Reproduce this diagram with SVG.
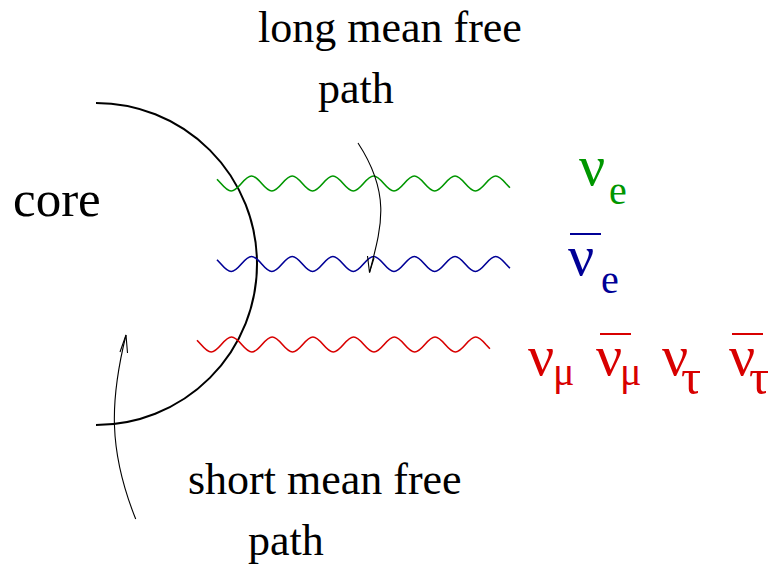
<svg xmlns="http://www.w3.org/2000/svg" width="771" height="566" viewBox="0 0 771 566">
<style>
.lbl{font-family:"Liberation Serif","Times New Roman",serif;font-size:44px;fill:#000}
.nu{font-family:"Liberation Serif","DejaVu Serif",serif;font-size:58px}
.sub{font-family:"Liberation Serif","DejaVu Serif",serif;font-size:40px}
.tau{font-family:"Liberation Serif","DejaVu Serif",serif;font-size:50px}
.wv{fill:none;stroke-width:1.6}
.arr{fill:none;stroke:#000;stroke-width:1.1}
.g{fill:#009600;stroke:#009600}
.b{fill:#000096;stroke:#000096}
.r{fill:#d80000;stroke:#d80000}
</style>
<defs>
<path id="wave" fill="none" d="M0,-4.3 L4,0 c3.40,3.94 6.51,7.5 10.175,7.5 s6.775,-3.56 10.175,-7.5 s6.51,-7.5 10.175,-7.5 s6.775,3.56 10.175,7.5 s6.51,7.5 10.175,7.5 s6.775,-3.56 10.175,-7.5 s6.51,-7.5 10.175,-7.5 s6.775,3.56 10.175,7.5 s6.51,7.5 10.175,7.5 s6.775,-3.56 10.175,-7.5 s6.51,-7.5 10.175,-7.5 s6.775,3.56 10.175,7.5 s6.51,7.5 10.175,7.5 s6.775,-3.56 10.175,-7.5 s6.51,-7.5 10.175,-7.5 s6.775,3.56 10.175,7.5 s6.51,7.5 10.175,7.5 s6.775,-3.56 10.175,-7.5 s6.51,-7.5 10.175,-7.5 s6.775,3.56 10.175,7.5 s6.51,7.5 10.175,7.5 s6.775,-3.56 10.175,-7.5 s6.51,-7.5 10.175,-7.5 s6.775,3.56 10.175,7.5 s6.51,7.5 10.175,7.5 s6.775,-3.56 10.175,-7.5 s6.51,-7.5 10.175,-7.5 s6.775,3.56 10.175,7.5 l4,4.3"/>
</defs>
<g id="core">
<path d="M96,103 A161,161 0 0 1 96,425" fill="none" stroke="#000" stroke-width="2"/>
<text class="lbl" x="13" y="216" style="font-size:51px">core</text>
</g>
<g id="waves">
<use href="#wave" class="wv" style="stroke:#009600;fill:none" transform="translate(217,183.5)"/>
<use href="#wave" class="wv" style="stroke:#000096;fill:none" transform="translate(217,264)"/>
<use href="#wave" class="wv" style="stroke:#d80000;fill:none" transform="translate(197,344.5)"/>
</g>
<g id="connectors">
<path class="arr" d="M358,143 C392,195 381,228 369.5,272.5"/>
<path class="arr" d="M367.5,256 L369.5,272.5 L374,258"/>
<path class="arr" d="M135.7,519 C108,450 110,400 126,335"/>
<path class="arr" d="M120,352 L126,335 L127.5,353"/>
</g>
<g id="long-label">
<text class="lbl" x="258" y="42">long mean free</text>
<text class="lbl" x="318" y="103">path</text>
</g>
<g id="short-label">
<text class="lbl" x="188" y="494">short mean free</text>
<text class="lbl" x="248" y="555">path</text>
</g>
<g id="nu-e" class="g" style="stroke:none">
<text class="nu" x="579" y="185">ν</text>
<text class="sub" x="609" y="204">e</text>
</g>
<g id="nubar-e" class="b">
<line x1="570" y1="234" x2="601" y2="234" stroke-width="2"/>
<text class="nu" x="568" y="275" style="stroke:none">ν</text>
<text class="sub" x="601" y="293" style="stroke:none">e</text>
</g>
<g id="nu-others" class="r">
<text class="nu" x="528" y="375" style="stroke:none">ν</text>
<text class="sub" x="553" y="385" style="stroke:none">μ</text>
<line x1="600" y1="334" x2="631" y2="334" stroke-width="2"/>
<text class="nu" x="596" y="375" style="stroke:none">ν</text>
<text class="sub" x="620" y="385" style="stroke:none">μ</text>
<text class="nu" x="662" y="375" style="stroke:none">ν</text>
<text class="tau" x="681" y="394" style="stroke:none">τ</text>
<line x1="732" y1="334" x2="763" y2="334" stroke-width="2"/>
<text class="nu" x="729" y="375" style="stroke:none">ν</text>
<text class="tau" x="749" y="394" style="stroke:none">τ</text>
</g>
</svg>
